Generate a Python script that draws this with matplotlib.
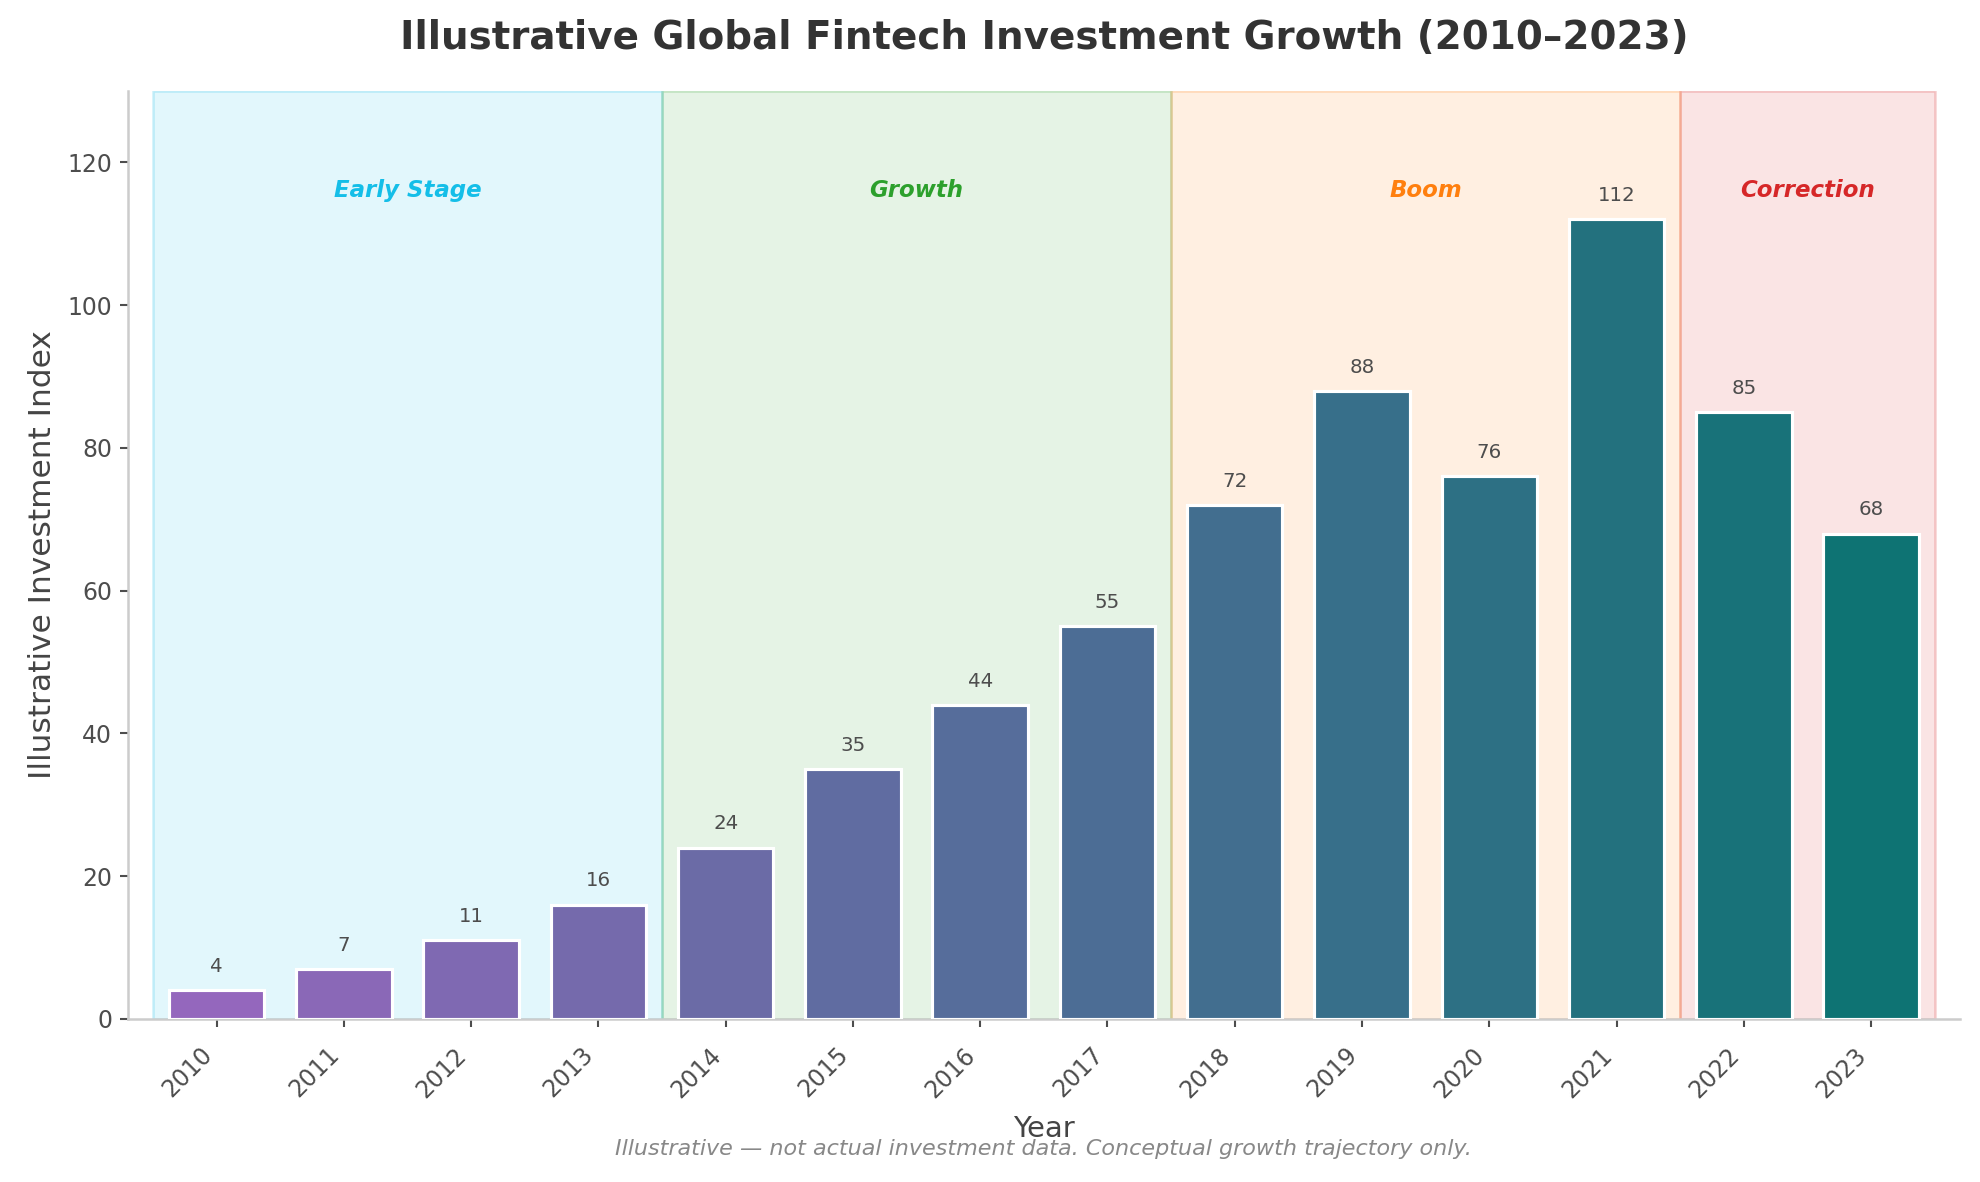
import numpy as np
import matplotlib
matplotlib.use("Agg")
import matplotlib.pyplot as plt
from matplotlib.colors import to_rgb

# 数据
years = ['2010', '2011', '2012', '2013', '2014', '2015', '2016',
         '2017', '2018', '2019', '2020', '2021', '2022', '2023']
values = [4, 7, 11, 16, 24, 35, 44, 55, 72, 88, 76, 112, 85, 68]

# 阶段: 名称, 起始索引, 结束索引, 颜色
phase_names = ['Early Stage', 'Growth', 'Boom', 'Correction']
phase_start = [0, 4, 8, 12]
phase_end = [3, 7, 11, 13]
phase_colors = ['#14bee8', '#2ca02c', '#ff7f0e', '#d62728']

plt.rcParams['font.family'] = ['DejaVu Sans']

fig = plt.figure(figsize=(13.2, 7.88), dpi=150)
ax = fig.add_axes([0.0644, 0.138, 0.9256, 0.785])

x = np.arange(len(years))

# 背景阶段区域
for name, s, e, c in zip(phase_names, phase_start, phase_end, phase_colors):
    rgb = to_rgb(c)
    ax.axvspan(s - 0.5, e + 0.5, facecolor=(*rgb, 0.12),
               edgecolor=(*rgb, 0.22), linewidth=1.2, zorder=0)
    ax.text((s + e) / 2, 116, name, color=c, fontsize=11, fontweight='bold',
            fontstyle='italic', ha='center', va='center')

# 颜色渐变: 紫色 -> 青色
c0 = np.array(to_rgb('#9467bd'))
c1 = np.array(to_rgb('#0e7373'))
t = np.linspace(0, 1, len(years))
bar_colors = [tuple(c0 + (c1 - c0) * ti) for ti in t]

ax.bar(x, values, width=0.75, color=bar_colors, edgecolor='white',
       linewidth=1.5, zorder=3)

for xi, v in zip(x, values):
    ax.text(xi, v + 2, str(v), ha='center', va='bottom', fontsize=9.5,
            color='#4d4d4d', zorder=4)

ax.set_xlim(-0.7, 13.7)
ax.set_ylim(0, 130)
ax.set_xticks(x)
ax.set_xticklabels(years, rotation=45, ha='right')
ax.set_yticks([0, 20, 40, 60, 80, 100, 120])

ax.tick_params(axis='both', labelsize=11.3, colors='#4d4d4d', length=4, width=1)
ax.tick_params(axis='x', pad=7.5)
ax.set_xlabel('Year', fontsize=14, color='#444444', labelpad=6)
ax.set_ylabel('Illustrative Investment Index', fontsize=15, color='#444444',
              labelpad=5)
ax.set_title('Illustrative Global Fintech Investment Growth (2010–2023)',
             fontsize=18.7, fontweight='bold', color='#333333', pad=20)

for side in ['top', 'right']:
    ax.spines[side].set_visible(False)
for side in ['left', 'bottom']:
    ax.spines[side].set_color('#cccccc')
    ax.spines[side].set_linewidth(1.2)

ax.text(0.5, -0.14, 'Illustrative — not actual investment data. Conceptual growth trajectory only.',
        transform=ax.transAxes, ha='center', va='center', fontsize=10.7,
        fontstyle='italic', color='#888888')

fig.savefig('out.png', dpi=150)
